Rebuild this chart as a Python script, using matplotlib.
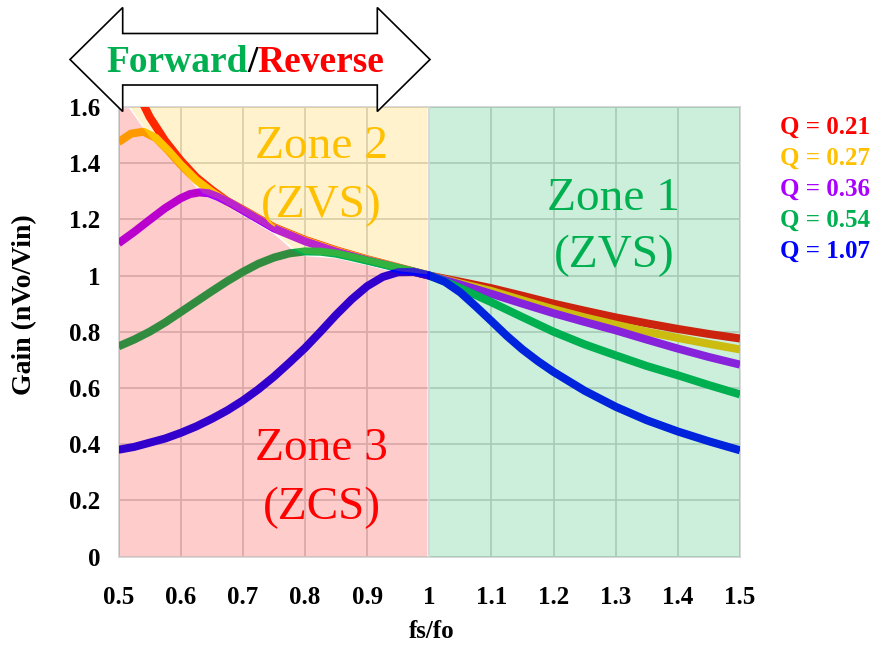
import numpy as np
import matplotlib
matplotlib.use('Agg')
import matplotlib.pyplot as plt
from matplotlib.patches import Polygon

plt.rcParams['font.family'] = ['Liberation Serif', 'DejaVu Serif']

# Gain curves read per quality factor (x = fs/fo, y = gain)
q_labels = ['Q = 0.21', 'Q = 0.27', 'Q = 0.36', 'Q = 0.54', 'Q = 1.07']
q_colors = ['#FF0000', '#FFC000', '#AA00FF', '#00B050', '#0000FF']

x_q021 = [0.53, 0.54, 0.55, 0.575, 0.60, 0.625, 0.65, 0.675, 0.70, 0.75, 0.80, 0.85, 0.90, 0.95,
          1.00, 1.05, 1.10, 1.15, 1.20, 1.25, 1.30, 1.35, 1.40, 1.45, 1.50]
g_q021 = [1.665, 1.61, 1.565, 1.48, 1.41, 1.35, 1.305, 1.265, 1.235, 1.172, 1.127, 1.09, 1.058, 1.029,
          1.0, 0.978, 0.955, 0.928, 0.90, 0.875, 0.851, 0.83, 0.81, 0.792, 0.776]

x_q027 = [0.50, 0.52, 0.54, 0.56, 0.58, 0.60, 0.625, 0.65, 0.675, 0.70, 0.75, 0.80, 0.85, 0.90, 0.95,
          1.00, 1.05, 1.10, 1.15, 1.20, 1.25, 1.30, 1.35, 1.40, 1.45, 1.50]
g_q027 = [1.475, 1.505, 1.512, 1.49, 1.445, 1.395, 1.34, 1.298, 1.262, 1.233, 1.17, 1.125, 1.088, 1.057, 1.028,
          1.0, 0.972, 0.945, 0.912, 0.88, 0.851, 0.825, 0.80, 0.778, 0.757, 0.737]

x_q036 = [0.50, 0.525, 0.55, 0.575, 0.60, 0.615, 0.63, 0.645, 0.66, 0.68, 0.70, 0.725, 0.75, 0.80, 0.85,
          0.90, 0.95, 1.00, 1.025, 1.05, 1.10, 1.15, 1.20, 1.25, 1.30, 1.35, 1.40, 1.45, 1.50]
g_q036 = [1.115, 1.155, 1.198, 1.24, 1.275, 1.29, 1.296, 1.293, 1.28, 1.258, 1.232, 1.2, 1.168, 1.122, 1.085,
          1.055, 1.027, 1.0, 0.984, 0.968, 0.935, 0.90, 0.866, 0.835, 0.805, 0.772, 0.74, 0.71, 0.683]

x_q054 = [0.50, 0.525, 0.55, 0.575, 0.60, 0.625, 0.65, 0.675, 0.70, 0.725, 0.75, 0.775, 0.80, 0.825,
          0.85, 0.875, 0.90, 0.925, 0.95, 0.975, 1.00, 1.025, 1.05, 1.075, 1.10, 1.15, 1.20, 1.25,
          1.30, 1.35, 1.40, 1.45, 1.50]
g_q054 = [0.748, 0.772, 0.80, 0.833, 0.87, 0.907, 0.944, 0.98, 1.013, 1.042, 1.064, 1.079, 1.086, 1.085,
          1.078, 1.066, 1.053, 1.04, 1.027, 1.014, 1.0, 0.979, 0.955, 0.93, 0.905, 0.852, 0.80, 0.755,
          0.716, 0.678, 0.645, 0.61, 0.577]

x_q107 = [0.50, 0.525, 0.55, 0.575, 0.60, 0.625, 0.65, 0.675, 0.70, 0.725, 0.75, 0.775, 0.80, 0.825,
          0.85, 0.875, 0.90, 0.925, 0.95, 0.975, 1.00, 1.025, 1.05, 1.075, 1.10, 1.125, 1.15, 1.175,
          1.20, 1.25, 1.30, 1.35, 1.40, 1.45, 1.50]
g_q107 = [0.38, 0.39, 0.405, 0.42, 0.44, 0.463, 0.49, 0.52, 0.555, 0.595, 0.64, 0.69, 0.742, 0.80,
          0.86, 0.915, 0.962, 0.995, 1.012, 1.013, 1.0, 0.978, 0.94, 0.89, 0.838, 0.785, 0.737, 0.695,
          0.657, 0.59, 0.533, 0.485, 0.445, 0.41, 0.378]

curves = [(x_q021, g_q021), (x_q027, g_q027), (x_q036, g_q036), (x_q054, g_q054), (x_q107, g_q107)]

# Peak-gain locus separating zone 3 (ZCS) from zone 2 (ZVS)
x_peak = [0.50, 0.517, 0.55, 0.58, 0.61, 0.635, 0.66, 0.70, 0.75, 0.78, 0.80, 0.85, 0.90, 0.95, 0.997]
g_peak = [1.60, 1.60, 1.497, 1.433, 1.36, 1.29, 1.268, 1.217, 1.152, 1.095, 1.073, 1.065, 1.04, 1.012, 1.0]

x_ticks = [0.5, 0.6, 0.7, 0.8, 0.9, 1.0, 1.1, 1.2, 1.3, 1.4, 1.5]
x_tick_labels = ['0.5', '0.6', '0.7', '0.8', '0.9', '1', '1.1', '1.2', '1.3', '1.4', '1.5']
y_ticks = [0, 0.2, 0.4, 0.6, 0.8, 1.0, 1.2, 1.4, 1.6]
y_tick_labels = ['0', '0.2', '0.4', '0.6', '0.8', '1', '1.2', '1.4', '1.6']

W, H = 886, 649
fig = plt.figure(figsize=(W / 100, H / 100), dpi=100)
ax = fig.add_axes([118.5 / W, 1 - 556.5 / H, (740 - 118.5) / W, (556.5 - 107) / H])

ax.set_xlim(0.5, 1.5)
ax.set_ylim(0, 1.6)
ax.set_xticks(x_ticks)
ax.set_xticklabels(x_tick_labels)
ax.set_yticks(y_ticks)
ax.set_yticklabels(y_tick_labels)
ax.tick_params(length=0, labelsize=18)
ax.tick_params(axis='x', pad=21)
ax.tick_params(axis='y', pad=13)
for lab in ax.get_xticklabels() + ax.get_yticklabels():
    lab.set_fontweight('bold')
ax.grid(True, color='#D4D4D4', linewidth=1.3, zorder=0)
ax.set_axisbelow(True)
for sp in ax.spines.values():
    sp.set_visible(False)
for xv in (0.5, 1.5):
    ax.axvline(xv, color='#D4D4D4', linewidth=1.3, zorder=0.5, clip_on=False)
for yv in (0, 1.6):
    ax.axhline(yv, color='#D4D4D4', linewidth=1.3, zorder=0.5, clip_on=False)

# curves first, translucent zone overlays on top
for (xs, gs), c in zip(curves, q_colors):
    ax.plot(xs, gs, color=c, linewidth=5.8, solid_capstyle='butt', solid_joinstyle='round', zorder=2)

xp = np.array(x_peak)
gp = np.array(g_peak)
ax.fill_between(xp, 0, gp - 0.004, facecolor='#FF0000', alpha=0.2, edgecolor='none', zorder=3)
ax.fill_between(xp[1:], gp[1:] + 0.004, 1.6, facecolor='#FFC000', alpha=0.2, edgecolor='none', zorder=3)
ax.fill_between([1.001, 1.5], 0, 1.6, facecolor='#00B050', alpha=0.2, edgecolor='none', zorder=3)

zone_text = [
    (0.827, 1.418, 1.208, 'Zone 2', '(ZVS)', '#FFC000'),
    (1.297, 1.233, 1.030, 'Zone 1', '(ZVS)', '#00B050'),
    (0.827, 0.343, 0.133, 'Zone 3', '(ZCS)', '#FF0000'),
]
for zx, y1, y2, t1, t2, c in zone_text:
    ax.text(zx, y1, t1, color=c, fontsize=34, ha='center', va='baseline', zorder=5)
    ax.text(zx, y2, t2, color=c, fontsize=34, ha='center', va='baseline', zorder=5)

# right-hand legend
for i, (lab, c) in enumerate(zip(q_labels, q_colors)):
    fig.text(780 / W, 1 - (127 + 31 * i) / H, lab, color=c, fontsize=18, fontweight='bold',
             ha='left', va='center')

fig.text(25 / W, 1 - 305 / H, 'Gain (nVo/Vin)', rotation=90, fontsize=20, fontweight='bold',
         ha='center', va='center')
fig.text(432 / W, 1 - 632 / H, 'fs/fo', fontsize=18, fontweight='bold', ha='center', va='center')

# double-headed block arrow above the plot
arrow_px = [(70, 59.5), (122.7, 7.5), (122.7, 33.5), (377.3, 33.5), (377.3, 7.5), (430, 59.5),
            (377.3, 111.5), (377.3, 85), (122.7, 85), (122.7, 111.5)]
arrow = Polygon([(px / W, 1 - py / H) for px, py in arrow_px], closed=True, transform=fig.transFigure,
                facecolor='white', edgecolor='black', linewidth=1.2, zorder=10)
fig.add_artist(arrow)
base = 1 - 72 / H
fig.text(248 / W, base, 'Forward', color='#00B050', fontsize=27, fontweight='bold', ha='right',
         va='baseline', zorder=11)
fig.text(252.5 / W, base, '/', color='black', fontsize=27, fontweight='bold', ha='center',
         va='baseline', zorder=11)
fig.text(257 / W, base, 'Reverse', color='#FF0000', fontsize=27, fontweight='bold', ha='left',
         va='baseline', zorder=11)

fig.savefig('out.png', dpi=100)
